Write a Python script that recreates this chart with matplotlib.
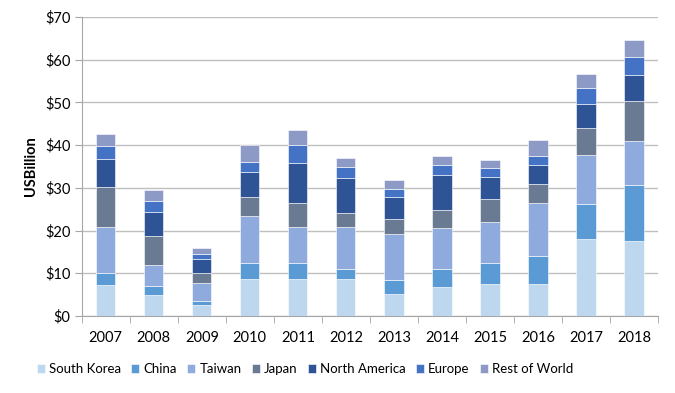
import numpy as np
import matplotlib.pyplot as plt
from matplotlib.ticker import FuncFormatter, MultipleLocator

plt.rcParams['font.family'] = ['Lato', 'DejaVu Sans']

years = ["2007", "2008", "2009", "2010", "2011", "2012", "2013", "2014", "2015", "2016", "2017", "2018"]
south_korea = [7.3, 4.8, 2.5, 8.7, 8.7, 8.7, 5.2, 6.8, 7.5, 7.6, 18.0, 17.6]
china = [2.8, 2.1, 1.0, 3.6, 3.6, 2.4, 3.3, 4.3, 4.8, 6.5, 8.2, 13.1]
taiwan = [10.8, 5.0, 4.3, 11.2, 8.5, 9.7, 10.6, 9.5, 9.6, 12.3, 11.4, 10.2]
japan = [9.2, 6.9, 2.3, 4.4, 5.7, 3.2, 3.5, 4.2, 5.5, 4.6, 6.5, 9.5]
north_america = [6.7, 5.6, 3.3, 5.9, 9.3, 8.3, 5.2, 8.1, 5.2, 4.4, 5.6, 5.9]
europe = [2.9, 2.5, 1.0, 2.2, 4.2, 2.5, 1.9, 2.4, 2.0, 2.1, 3.7, 4.2]
rest_of_world = [2.9, 2.6, 1.5, 4.0, 3.5, 2.1, 2.1, 2.1, 1.9, 3.7, 3.3, 4.1]

series = [
    ("South Korea", south_korea, "#BDD7EE"),
    ("China", china, "#5B9BD5"),
    ("Taiwan", taiwan, "#8FAADC"),
    ("Japan", japan, "#6B7A93"),
    ("North America", north_america, "#2F5496"),
    ("Europe", europe, "#4472C4"),
    ("Rest of World", rest_of_world, "#8E9AC6"),
]

fig = plt.figure(figsize=(6.75, 3.93), dpi=100)
ax = fig.add_axes([0.121, 0.196, 0.854, 0.761])

x = np.arange(len(years))
bottom = np.zeros(len(years))
for name, vals, col in series:
    ax.bar(x, vals, 0.4, bottom=bottom, color=col, label=name,
           edgecolor="white", linewidth=0.4, zorder=3)
    bottom += np.array(vals)

ax.set_xlim(-0.5, len(years) - 0.5)
ax.set_ylim(0, 70)
ax.yaxis.set_major_locator(MultipleLocator(10))
ax.yaxis.set_major_formatter(FuncFormatter(lambda v, p: f"${v:.0f}"))
ax.grid(axis="y", color="#BFBFBF", linewidth=1, zorder=0)

ax.set_xticks(x)
ax.set_xticklabels(years)
ax.set_xticks(np.arange(-0.5, len(years)), minor=True)
ax.tick_params(axis="x", which="major", length=0, pad=11, labelsize=10.5)
ax.tick_params(axis="x", which="minor", length=5, color="#A6A6A6", direction="out")
ax.tick_params(axis="y", length=5, color="#A6A6A6", labelsize=10.5, pad=3)

for s in ["top", "right"]:
    ax.spines[s].set_visible(False)
ax.spines["left"].set_color("#A6A6A6")
ax.spines["bottom"].set_color("#A6A6A6")

ax.set_ylabel("USBillion", fontweight="bold", fontsize=10.5, labelpad=5)

fig.legend(loc="center", bbox_to_anchor=(0.452, 0.061), ncol=7, frameon=False,
           fontsize=9.5, handlelength=0.6, handleheight=0.6, handletextpad=0.3,
           columnspacing=0.8)

fig.savefig("out.png", dpi=100)
